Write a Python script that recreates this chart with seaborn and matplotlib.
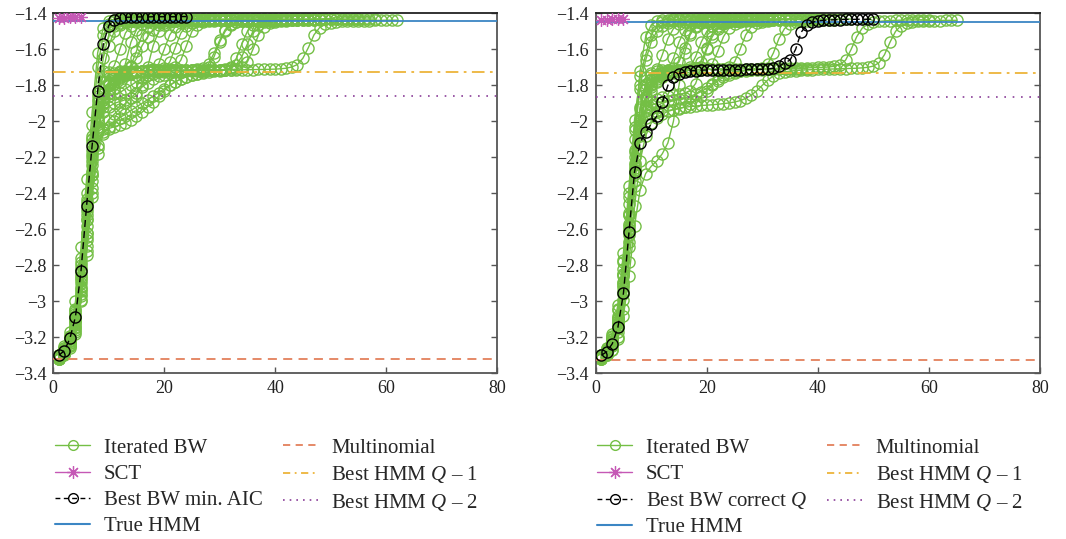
import numpy as np
import pandas as pd
import matplotlib
matplotlib.use("Agg")
import matplotlib.pyplot as plt
import seaborn as sns
from matplotlib.lines import Line2D

# ---------------------------------------------------------------- data
# Left panel: iterated Baum-Welch runs (normalised log-likelihood per iteration)
left_run01 = [-3.31, -3.26, -3.19, -3.04, -2.76, -2.40, -2.02, -1.70, -1.52, -1.46, -1.442, -1.436, -1.433, -1.432, -1.431, -1.430, -1.430, -1.429]
left_run02 = [-3.30, -3.27, -3.22, -3.10, -2.86, -2.52, -2.18, -1.92, -1.72, -1.58, -1.50, -1.465, -1.450, -1.443, -1.440, -1.438, -1.437, -1.436, -1.435, -1.435, -1.434, -1.434, -1.433, -1.433, -1.433, -1.432, -1.432, -1.432]
left_run03 = [-3.32, -3.28, -3.23, -3.12, -2.92, -2.62, -2.30, -2.04, -1.88, -1.79, -1.745, -1.728, -1.720, -1.690, -1.610, -1.520, -1.475, -1.455, -1.447, -1.443, -1.440, -1.438, -1.437, -1.436, -1.435, -1.435, -1.434, -1.434, -1.433, -1.433, -1.433, -1.432, -1.432, -1.432]
left_run04 = [-3.31, -3.29, -3.25, -3.16, -2.96, -2.66, -2.33, -2.06, -1.92, -1.84, -1.79, -1.76, -1.745, -1.735, -1.728, -1.724, -1.720, -1.710, -1.680, -1.600, -1.520, -1.475, -1.455, -1.447, -1.443, -1.440, -1.438, -1.437, -1.436, -1.436, -1.435, -1.435, -1.434, -1.434, -1.434, -1.433, -1.433, -1.433, -1.432, -1.432]
left_run05 = [-3.30, -3.27, -3.21, -3.09, -2.84, -2.50, -2.16, -1.95, -1.84, -1.78, -1.75, -1.735, -1.727, -1.722, -1.720, -1.718, -1.717, -1.716, -1.716, -1.715, -1.712, -1.700, -1.660, -1.580, -1.500, -1.465, -1.450, -1.443, -1.440, -1.438, -1.437, -1.436, -1.436, -1.435, -1.435, -1.434, -1.434, -1.434, -1.433, -1.433, -1.433, -1.432, -1.432, -1.432, -1.432]
left_run06 = [-3.32, -3.29, -3.24, -3.14, -2.94, -2.64, -2.30, -2.05, -1.90, -1.82, -1.78, -1.755, -1.740, -1.730, -1.725, -1.722, -1.720, -1.719, -1.718, -1.717, -1.716, -1.716, -1.715, -1.715, -1.714, -1.712, -1.705, -1.680, -1.620, -1.550, -1.490, -1.460, -1.448, -1.443, -1.440, -1.438, -1.437, -1.436, -1.436, -1.435, -1.435, -1.435, -1.434, -1.434, -1.434, -1.433, -1.433, -1.433, -1.432, -1.432]
left_run07 = [-3.31, -3.28, -3.22, -3.11, -2.90, -2.58, -2.24, -2.00, -1.87, -1.80, -1.77, -1.750, -1.738, -1.730, -1.726, -1.723, -1.721, -1.720, -1.719, -1.718, -1.718, -1.717, -1.717, -1.716, -1.716, -1.716, -1.715, -1.715, -1.715, -1.714, -1.712, -1.705, -1.685, -1.640, -1.570, -1.500, -1.465, -1.450, -1.443, -1.440, -1.438, -1.437, -1.436, -1.436, -1.435, -1.435, -1.435, -1.434, -1.434, -1.434, -1.433, -1.433, -1.433, -1.433, -1.432]
left_run08 = [-3.32, -3.29, -3.25, -3.17, -2.99, -2.72, -2.40, -2.15, -2.04, -1.99,
              -1.96, -1.93, -1.90, -1.87, -1.84, -1.81, -1.785, -1.765, -1.750, -1.740,
              -1.733, -1.728, -1.725, -1.722, -1.720, -1.719, -1.718, -1.717, -1.716, -1.716,
              -1.715, -1.715, -1.714, -1.714, -1.713, -1.713, -1.712, -1.712, -1.711, -1.710,
              -1.708, -1.705, -1.698, -1.685, -1.650, -1.590, -1.520, -1.480, -1.462, -1.453,
              -1.448, -1.445, -1.443, -1.442, -1.441, -1.440, -1.440, -1.439, -1.439, -1.438, -1.438, -1.438]
left_run09 = [-3.30, -3.27, -3.20, -3.07, -2.82, -2.48, -2.12, -1.93, -1.88, -1.86,
              -1.85, -1.84, -1.82, -1.80, -1.78, -1.76, -1.745, -1.735, -1.728, -1.724,
              -1.721, -1.720, -1.719, -1.718, -1.717, -1.717, -1.716, -1.716, -1.715, -1.715,
              -1.714, -1.713, -1.710, -1.700, -1.670, -1.600, -1.520, -1.475, -1.455, -1.447,
              -1.443, -1.440, -1.438, -1.437, -1.436, -1.436, -1.435, -1.435, -1.434, -1.434,
              -1.434, -1.433, -1.433, -1.433, -1.433, -1.432, -1.432, -1.432]
left_run10 = [-3.31, -3.27, -3.21, -3.08, -2.82, -2.46, -2.10, -1.88, -1.65, -1.52, -1.47, -1.452, -1.445, -1.441, -1.439, -1.437, -1.436, -1.435, -1.434, -1.434, -1.433, -1.433, -1.432, -1.432]
left_run11 = [-3.31, -3.28, -3.22, -3.11, -2.88, -2.55, -2.22, -1.98, -1.88, -1.84, -1.82, -1.78, -1.68, -1.56, -1.49, -1.46, -1.448, -1.442, -1.439, -1.437, -1.436, -1.435, -1.435, -1.434, -1.434, -1.433, -1.433, -1.433, -1.432, -1.432]
left_run12 = [-3.32, -3.30, -3.26, -3.18, -3.00, -2.74, -2.42, -2.18, -2.07, -2.03,
              -2.00, -1.98, -1.96, -1.94, -1.92, -1.90, -1.88, -1.86, -1.84, -1.82,
              -1.80, -1.78, -1.765, -1.752, -1.742, -1.735, -1.730, -1.726, -1.723, -1.720,
              -1.715, -1.700, -1.650, -1.570, -1.500, -1.465, -1.450, -1.443, -1.440, -1.438,
              -1.437, -1.436, -1.435, -1.435, -1.434, -1.434, -1.433, -1.433]
left_run13 = [-3.30, -3.26, -3.19, -3.05, -2.78, -2.43, -2.08, -1.86, -1.78, -1.745, -1.730, -1.722, -1.718, -1.700, -1.650, -1.580, -1.530, -1.490, -1.465, -1.452, -1.445, -1.441, -1.438, -1.436, -1.435, -1.434]
left_run14 = [-3.31, -3.28, -3.23, -3.13, -2.93, -2.62, -2.28, -2.03, -1.95, -1.92, -1.90, -1.89, -1.88, -1.87, -1.86, -1.80, -1.70, -1.58, -1.50, -1.465, -1.450, -1.443, -1.440, -1.438, -1.437, -1.436, -1.435, -1.435, -1.434, -1.434, -1.433, -1.433, -1.433, -1.432, -1.432, -1.432]
left_run15 = [-3.30, -3.25, -3.17, -3.00, -2.70, -2.32, -1.95, -1.62, -1.48, -1.445, -1.435, -1.431, -1.429, -1.428]
left_run16 = [-3.32, -3.28, -3.22, -3.10, -2.87, -2.54, -2.20, -1.97, -1.85, -1.79, -1.760, -1.742, -1.732, -1.726, -1.722, -1.720, -1.718, -1.717, -1.715, -1.705, -1.670, -1.590, -1.510, -1.470, -1.452, -1.445, -1.441, -1.439, -1.437, -1.436, -1.435, -1.435, -1.434, -1.434, -1.433, -1.433, -1.433, -1.432]
left_run17 = [-3.31, -3.27, -3.20, -3.06, -2.80, -2.45, -2.10, -1.84, -1.75, -1.725, -1.690, -1.600, -1.510, -1.468, -1.450, -1.443, -1.440, -1.438, -1.436, -1.435, -1.434, -1.434]
left_run18 = [-3.31, -3.29, -3.24, -3.15, -2.97, -2.69, -2.37, -2.13, -2.06, -2.04,
              -2.03, -2.02, -2.01, -1.99, -1.97, -1.95, -1.92, -1.89, -1.86, -1.83,
              -1.80, -1.78, -1.765, -1.752, -1.742, -1.735, -1.725, -1.700, -1.640, -1.560,
              -1.500, -1.465, -1.450, -1.443, -1.440, -1.438, -1.437, -1.436, -1.435, -1.435,
              -1.434, -1.434, -1.434, -1.433, -1.433, -1.433, -1.432, -1.432, -1.432, -1.431]

# Right panel: iterated Baum-Welch runs
right_run01 = [-3.31, -3.27, -3.20, -3.05, -2.78, -2.42, -2.05, -1.72, -1.53, -1.465, -1.445, -1.438, -1.435, -1.434, -1.433, -1.432, -1.432, -1.431, -1.431, -1.430]
right_run02 = [-3.30, -3.27, -3.21, -3.08, -2.82, -2.46, -2.10, -1.80, -1.66, -1.56, -1.50, -1.468, -1.452, -1.445, -1.441, -1.439, -1.437, -1.436, -1.435, -1.435, -1.434, -1.434, -1.434, -1.433, -1.433, -1.433, -1.433, -1.432, -1.432, -1.432, -1.432, -1.432]
right_run03 = [-3.31, -3.28, -3.22, -3.10, -2.86, -2.52, -2.17, -1.92, -1.79, -1.740, -1.710, -1.630, -1.540, -1.485, -1.460, -1.449, -1.444, -1.441, -1.439, -1.437, -1.436, -1.435, -1.435, -1.434, -1.434, -1.433]
right_run04 = [-3.32, -3.29, -3.24, -3.14, -2.94, -2.63, -2.29, -2.02, -1.86, -1.78, -1.745, -1.728, -1.715, -1.650, -1.560, -1.495, -1.465, -1.451, -1.445, -1.441, -1.439, -1.437, -1.436, -1.435, -1.435, -1.434, -1.434, -1.434, -1.433, -1.433, -1.433, -1.433, -1.432, -1.432, -1.432, -1.432]
right_run05 = [-3.30, -3.26, -3.19, -3.04, -2.77, -2.40, -2.03, -1.82, -1.755, -1.730, -1.720, -1.716, -1.714, -1.705, -1.670, -1.590, -1.510, -1.470, -1.453, -1.446, -1.442, -1.439, -1.437, -1.436, -1.435, -1.435, -1.434, -1.434, -1.433, -1.433]
right_run06 = [-3.31, -3.29, -3.25, -3.17, -2.99, -2.70, -2.36, -2.08, -1.92, -1.83, -1.78, -1.752, -1.736, -1.727, -1.721, -1.716, -1.700, -1.640, -1.560, -1.500, -1.468, -1.453, -1.446, -1.442, -1.440, -1.438, -1.437, -1.436, -1.435, -1.435, -1.434, -1.434, -1.434, -1.433, -1.433, -1.433, -1.433, -1.432, -1.432, -1.432, -1.432, -1.432]
right_run07 = [-3.32, -3.28, -3.23, -3.12, -2.91, -2.60, -2.26, -2.00, -1.87, -1.80,
               -1.765, -1.745, -1.732, -1.724, -1.719, -1.716, -1.714, -1.713, -1.712, -1.706,
               -1.680, -1.610, -1.530, -1.482, -1.460, -1.449, -1.444, -1.441, -1.439, -1.437,
               -1.436, -1.435, -1.435, -1.434, -1.434, -1.433, -1.433, -1.433, -1.432, -1.432]
right_run08 = [-3.31, -3.28, -3.23, -3.13, -2.92, -2.61, -2.27, -2.01, -1.88, -1.81,
               -1.775, -1.752, -1.738, -1.729, -1.723, -1.719, -1.716, -1.714, -1.713, -1.712,
               -1.711, -1.710, -1.708, -1.700, -1.670, -1.600, -1.520, -1.475, -1.455, -1.446,
               -1.442, -1.439, -1.437, -1.436, -1.435, -1.435, -1.434, -1.434, -1.433, -1.433,
               -1.433, -1.433, -1.432, -1.432, -1.432, -1.432]
right_run09 = [-3.32, -3.30, -3.27, -3.20, -3.04, -2.78, -2.47, -2.22, -2.08, -2.01,
               -1.98, -1.96, -1.945, -1.935, -1.928, -1.922, -1.918, -1.915, -1.912, -1.910,
               -1.908, -1.905, -1.902, -1.898, -1.893, -1.885, -1.873, -1.855, -1.830, -1.800,
               -1.770, -1.748, -1.734, -1.726, -1.721, -1.718, -1.716, -1.714, -1.713, -1.712,
               -1.711, -1.710, -1.709, -1.708, -1.707, -1.706, -1.705, -1.703, -1.700, -1.693,
               -1.675, -1.630, -1.560, -1.500, -1.468, -1.454, -1.447, -1.444, -1.442, -1.441,
               -1.440, -1.440, -1.439, -1.439, -1.439]
right_run10 = [-3.31, -3.28, -3.22, -3.11, -2.89, -2.57, -2.23, -1.99, -1.86, -1.79,
               -1.755, -1.736, -1.726, -1.720, -1.717, -1.715, -1.714, -1.713, -1.712, -1.712,
               -1.711, -1.711, -1.710, -1.710, -1.709, -1.709, -1.708, -1.708, -1.707, -1.707,
               -1.706, -1.706, -1.705, -1.705, -1.704, -1.704, -1.703, -1.703, -1.702, -1.701,
               -1.700, -1.698, -1.694, -1.685, -1.660, -1.600, -1.530, -1.482, -1.460, -1.450,
               -1.445, -1.442, -1.440, -1.439, -1.438, -1.437, -1.437, -1.436, -1.436, -1.436]
right_run11 = [-3.32, -3.30, -3.27, -3.21, -3.08, -2.86, -2.58, -2.38, -2.29, -2.25, -2.22, -2.18, -2.12, -2.00, -1.80, -1.62, -1.52, -1.475, -1.456, -1.447, -1.443, -1.440, -1.438, -1.437, -1.436, -1.435, -1.435, -1.434, -1.434, -1.433]
right_run12 = [-3.31, -3.28, -3.23, -3.12, -2.90, -2.58, -2.24, -2.02, -1.94, -1.91,
               -1.90, -1.89, -1.885, -1.88, -1.875, -1.87, -1.86, -1.85, -1.835, -1.815,
               -1.790, -1.765, -1.745, -1.732, -1.725, -1.720, -1.717, -1.715, -1.712, -1.705,
               -1.680, -1.620, -1.540, -1.485, -1.460, -1.449, -1.444, -1.441, -1.439, -1.437,
               -1.436, -1.435, -1.435, -1.434]
right_run13 = [-3.30, -3.27, -3.21, -3.09, -2.85, -2.52, -2.20, -2.03, -1.98, -1.96,
               -1.95, -1.945, -1.94, -1.935, -1.93, -1.92, -1.905, -1.885, -1.86, -1.83,
               -1.80, -1.775, -1.755, -1.740, -1.730, -1.723, -1.719, -1.716, -1.714, -1.713,
               -1.712, -1.711, -1.710, -1.710, -1.709, -1.709, -1.708, -1.708]
right_run14 = [-3.31, -3.29, -3.24, -3.15, -2.96, -2.67, -2.33, -2.05, -1.93, -1.89,
               -1.875, -1.865, -1.86, -1.855, -1.85, -1.845, -1.83, -1.79, -1.70, -1.60,
               -1.53, -1.485, -1.460, -1.449, -1.444, -1.441, -1.439, -1.437, -1.436, -1.435,
               -1.435, -1.434, -1.434, -1.433]
right_run15 = [-3.30, -3.26, -3.18, -3.02, -2.73, -2.36, -1.99, -1.75, -1.63, -1.52, -1.47, -1.450, -1.441, -1.437, -1.435]
right_run16 = [-3.31, -3.27, -3.21, -3.09, -2.85, -2.51, -2.16, -1.93, -1.82, -1.77,
               -1.745, -1.730, -1.722, -1.718, -1.715, -1.713, -1.712, -1.705, -1.670, -1.590,
               -1.515, -1.472, -1.453, -1.445, -1.441, -1.439, -1.437, -1.436, -1.435, -1.435,
               -1.434, -1.434, -1.433, -1.433, -1.433, -1.432, -1.432, -1.432]

# Highlighted runs
best_left = [-3.30, -3.274, -3.206, -3.085, -2.83, -2.47, -2.135, -1.83, -1.572, -1.468,
             -1.435, -1.425, -1.422, -1.421, -1.420, -1.420, -1.420, -1.419, -1.419, -1.419,
             -1.419, -1.419, -1.418, -1.418]
best_right = [-3.30, -3.28, -3.235, -3.145, -2.955, -2.615, -2.28, -2.12, -2.06, -2.015,
              -1.97, -1.895, -1.80, -1.755, -1.735, -1.725, -1.72, -1.718, -1.716, -1.715,
              -1.715, -1.714, -1.714, -1.713, -1.713, -1.713, -1.712, -1.712, -1.712, -1.711,
              -1.710, -1.705, -1.695, -1.675, -1.66, -1.60, -1.505, -1.465, -1.45, -1.442,
              -1.439, -1.437, -1.436, -1.435, -1.434, -1.434, -1.433, -1.433, -1.433, -1.432]

# SCT
sct_left = [-1.428, -1.425, -1.423, -1.422, -1.421]
sct_right = [-1.438, -1.436, -1.434, -1.433, -1.432]

# Reference levels
true_hmm = [-1.443, -1.450]
multinomial = [-3.322, -3.324]
best_q1 = [-1.724, -1.730]
best_q2 = [-1.858, -1.865]

best_labels = ["Best BW min. AIC", "Best BW correct $Q$"]
x_ticks = [0, 20, 40, 60, 80]
y_ticks = [-3.4, -3.2, -3.0, -2.8, -2.6, -2.4, -2.2, -2.0, -1.8, -1.6, -1.4]
y_tick_labels = ["\u22123.4", "\u22123.2", "\u22123", "\u22122.8", "\u22122.6", "\u22122.4",
                 "\u22122.2", "\u22122", "\u22121.8", "\u22121.6", "\u22121.4"]

left_runs = [left_run01, left_run02, left_run03, left_run04, left_run05, left_run06,
             left_run07, left_run08, left_run09, left_run10, left_run11, left_run12,
             left_run13, left_run14, left_run15, left_run16, left_run17, left_run18]
right_runs = [right_run01, right_run02, right_run03, right_run04, right_run05, right_run06,
              right_run07, right_run08, right_run09, right_run10, right_run11, right_run12,
              right_run13, right_run14, right_run15, right_run16]

# ---------------------------------------------------------------- style
GREEN = "#74BF45"
MAGENTA = "#C558B5"
BLUE = "#3C86C4"
ORANGE = "#E3805C"
GOLD = "#EDB43A"
PURPLE = "#8A3D98"
SPINE = "#555555"

sns.set_style("white")
plt.rcParams["font.family"] = ["Liberation Serif", "DejaVu Serif"]
plt.rcParams["mathtext.fontset"] = "custom"
plt.rcParams["mathtext.rm"] = "Liberation Serif"
plt.rcParams["mathtext.it"] = "Liberation Serif:italic"


def runs_frame(runs):
    rows = []
    for k, run in enumerate(runs):
        for i, v in enumerate(run, start=1):
            rows.append((k, i, v))
    return pd.DataFrame(rows, columns=["run", "iteration", "loglik"])


fig = plt.figure(figsize=(10.66, 5.39), dpi=100)
ax_left = fig.add_axes([0.0500, 0.3074, 0.4162, 0.6679])
ax_right = fig.add_axes([0.5588, 0.3074, 0.4168, 0.6679])

MS = 8
for p, (ax, runs, best, sct) in enumerate([(ax_left, left_runs, best_left, sct_left),
                                           (ax_right, right_runs, best_right, sct_right)]):
    df = runs_frame(runs)
    sns.lineplot(data=df, x="iteration", y="loglik", units="run", estimator=None,
                 sort=False, color=GREEN, linewidth=1.0, marker="o", markersize=MS,
                 markerfacecolor="none", markeredgecolor=GREEN, markeredgewidth=1.0,
                 legend=False, ax=ax, zorder=2)
    ax.axhline(true_hmm[p], color=BLUE, lw=1.3, zorder=3)
    ax.axhline(multinomial[p], color=ORANGE, lw=1.3, ls=(0, (5, 3.5)), zorder=3)
    ax.axhline(best_q1[p], color=GOLD, lw=1.3, ls=(0, (7, 3, 1.5, 3)), zorder=3)
    ax.axhline(best_q2[p], color=PURPLE, lw=1.2, ls=(0, (1, 4)), zorder=3)
    best_df = pd.DataFrame({"iteration": np.arange(1, len(best) + 1), "loglik": best})
    sns.lineplot(data=best_df, x="iteration", y="loglik", color="black", linewidth=1.0,
                 linestyle=(0, (5, 3)), marker="o", markersize=MS, markerfacecolor="none",
                 markeredgecolor="black", markeredgewidth=1.0, ax=ax, zorder=4)
    sct_df = pd.DataFrame({"iteration": np.arange(1, len(sct) + 1), "loglik": sct})
    sns.lineplot(data=sct_df, x="iteration", y="loglik", color=MAGENTA, linewidth=0.8,
                 marker=(8, 2, 0), markersize=9, markeredgecolor=MAGENTA,
                 markeredgewidth=0.9, ax=ax, zorder=5)

    ax.set_xlim(0, 80)
    ax.set_ylim(-3.4, -1.4)
    ax.set_xticks(x_ticks)
    ax.set_xticklabels([str(t) for t in x_ticks])
    ax.set_yticks(y_ticks)
    ax.set_yticklabels(y_tick_labels)
    ax.set_xlabel("")
    ax.set_ylabel("")
    for s in ax.spines.values():
        s.set_color(SPINE)
        s.set_linewidth(1.3)
        s.set_visible(True)
    ax.spines["top"].set_color("#222222")
    ax.tick_params(direction="in", length=4, width=1.0, color=SPINE, labelsize=13,
                   top=False, right=True, left=True, bottom=True, pad=5,
                   labelcolor="#222222")

    handles = [
        Line2D([], [], color=GREEN, lw=1.0, marker="o", ms=7, mfc="none", mec=GREEN, mew=1.0),
        Line2D([], [], color=MAGENTA, lw=1.0, marker=(8, 2, 0), ms=9, mec=MAGENTA, mew=0.9),
        Line2D([], [], color="black", lw=1.0, ls=(0, (3.5, 2.5)), marker="o", ms=7, mfc="none",
               mec="black", mew=1.0),
        Line2D([], [], color=BLUE, lw=1.5),
        Line2D([], [], color=ORANGE, lw=1.3, ls=(0, (4, 3))),
        Line2D([], [], color=GOLD, lw=1.3, ls=(0, (4, 2.5, 1, 2.5))),
        Line2D([], [], color=PURPLE, lw=1.2, ls=(0, (1, 3))),
    ]
    labels = ["Iterated BW", "SCT", best_labels[p], "True HMM", "Multinomial",
              "Best HMM $Q$ \u2013 1", "Best HMM $Q$ \u2013 2"]
    x0 = [0.0516, 0.5600][p]
    ax.legend(handles, labels, ncol=2, frameon=False, fontsize=15,
              loc="upper left", bbox_to_anchor=(x0, 0.187), bbox_transform=fig.transFigure,
              borderpad=0, borderaxespad=0, handlelength=1.7, handletextpad=0.65,
              columnspacing=0.95, labelspacing=0.31, numpoints=1)

fig.savefig("out.png", dpi=100)
